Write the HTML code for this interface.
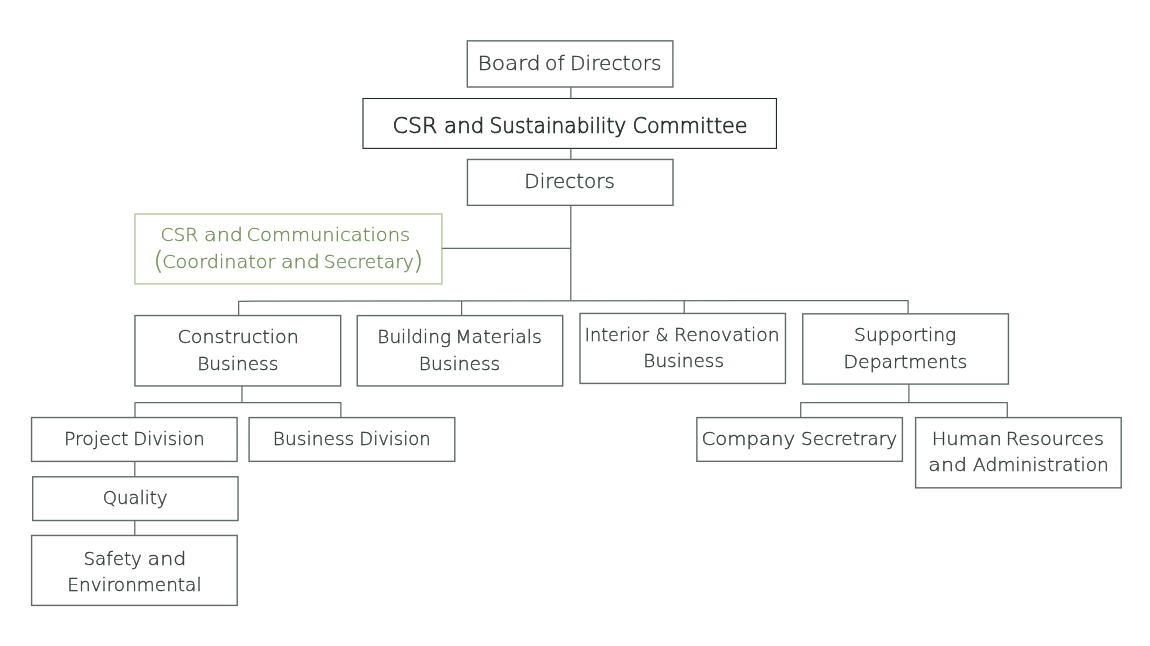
<!DOCTYPE html>
<html lang="en">
<head>
<meta charset="utf-8">
<title>Organisation Chart</title>
<style>
html,body{margin:0;padding:0;background:#fff;}
body{width:1150px;height:646px;position:relative;overflow:hidden;font-family:"DejaVu Sans", "Liberation Sans", sans-serif;font-weight:200;}
#chart{position:absolute;left:0;top:0;width:1150px;height:646px;}
#labels{position:absolute;left:0;top:0;width:1150px;height:646px;will-change:transform;}
.t{position:absolute;left:0;top:0;margin:0;white-space:nowrap;line-height:1;}
.t span{position:absolute;white-space:nowrap;line-height:1;transform-origin:0 0;}
</style>
</head>
<body>
<svg id="chart" width="1150" height="646" viewBox="0 0 1150 646" fill="none">
<rect x="467.30" y="40.85" width="205.60" height="46.15" stroke="#5f6c68" stroke-width="1.40" fill="#fff"/>
<rect x="363.00" y="98.50" width="413.45" height="49.90" stroke="#1d2c28" stroke-width="1.10" fill="#fff"/>
<rect x="467.45" y="159.45" width="205.55" height="45.91" stroke="#5f6c68" stroke-width="1.40" fill="#fff"/>
<rect x="134.95" y="214.00" width="306.95" height="69.90" stroke="#b7c9a0" stroke-width="1.45" fill="#fff"/>
<rect x="134.95" y="315.55" width="205.75" height="70.41" stroke="#5f6c68" stroke-width="1.40" fill="#fff"/>
<rect x="357.25" y="315.60" width="205.45" height="70.36" stroke="#5f6c68" stroke-width="1.40" fill="#fff"/>
<rect x="579.98" y="313.45" width="205.48" height="69.98" stroke="#5f6c68" stroke-width="1.40" fill="#fff"/>
<rect x="802.77" y="313.85" width="205.66" height="70.25" stroke="#5f6c68" stroke-width="1.40" fill="#fff"/>
<rect x="31.55" y="417.55" width="205.55" height="43.85" stroke="#5f6c68" stroke-width="1.40" fill="#fff"/>
<rect x="249.10" y="417.60" width="205.70" height="43.76" stroke="#5f6c68" stroke-width="1.40" fill="#fff"/>
<rect x="32.70" y="476.80" width="205.35" height="43.72" stroke="#5f6c68" stroke-width="1.40" fill="#fff"/>
<rect x="31.60" y="535.45" width="205.60" height="69.95" stroke="#5f6c68" stroke-width="1.40" fill="#fff"/>
<rect x="696.87" y="417.60" width="205.53" height="43.73" stroke="#5f6c68" stroke-width="1.40" fill="#fff"/>
<rect x="915.60" y="417.60" width="205.60" height="70.23" stroke="#5f6c68" stroke-width="1.40" fill="#fff"/>
<g stroke="#5f6c68" stroke-width="1.25" fill="none" stroke-linejoin="round">
<path d="M570.85 87V98.5"/>
<path d="M570.85 148.4V159.45"/>
<path d="M570.8 205.36V300.75"/>
<path d="M441.9 248.46H570.8"/>
<path d="M238.65 315.55V301.25L908.1 300.6V313.85"/>
<path d="M461.6 301V315.6"/>
<path d="M684.2 300.8V313.45"/>
<path d="M241.97 385.96V402.6"/>
<path d="M135 417.55V402.6H340.87V417.6"/>
<path d="M134.8 461.4V476.8"/>
<path d="M134.8 520.52V535.45"/>
<path d="M908.9 384.1V402.6"/>
<path d="M800.7 417.6V402.6H1007.3V417.6"/>
</g>
</svg>
<div id="labels">
<div class="t" style="color:#2e3d39;-webkit-text-stroke:0.38px #2e3d39"><span style="left:477px;top:54px;font-size:19.86px;transform:translateX(0.50px) scaleX(1.0935)">Board</span> <span style="left:545px;top:54px;font-size:19.86px;transform:translateX(0.08px) scaleX(1.0222)">of</span> <span style="left:570px;top:54px;font-size:19.86px;transform:translateX(0.00px) scaleX(1.0167)">Directors</span></div>
<div class="t" style="color:#1d2c28;-webkit-text-stroke:0.70px #1d2c28"><span style="left:392px;top:115px;font-size:21.64px;transform:translateX(0.55px) scaleX(1.0193)">CSR</span> <span style="left:444px;top:115px;font-size:21.64px;transform:translateX(0.12px) scaleX(0.9879)">and</span> <span style="left:489px;top:115px;font-size:21.64px;transform:translateX(0.43px) scaleX(0.9345)">Sustainability</span> <span style="left:632px;top:115px;font-size:21.64px;transform:translateX(0.45px) scaleX(0.9591)">Committee</span></div>
<div class="t" style="color:#2e3d39;-webkit-text-stroke:0.38px #2e3d39"><span style="left:524px;top:172px;font-size:19.86px;transform:translateX(0.33px) scaleX(1.0046)">Directors</span></div>
<div class="t" style="color:#6d8f4f;-webkit-text-stroke:0.30px #6d8f4f"><span style="left:160px;top:226px;font-size:17.81px;transform:translateX(0.45px) scaleX(1.0501)">CSR</span> <span style="left:203px;top:226px;font-size:17.81px;transform:translateX(0.93px) scaleX(1.1686)">and</span> <span style="left:246px;top:226px;font-size:17.81px;transform:translateX(0.50px) scaleX(1.0951)">Communications</span></div>
<div class="t" style="color:#6d8f4f;-webkit-text-stroke:0.30px #6d8f4f"><span style="left:153px;top:248px;font-size:25.48px;transform:translateX(0.60px) scaleX(1.0000)">(</span><span style="left:162px;top:253px;font-size:17.81px;transform:translateX(0.20px) scaleX(1.0797)">Coordinator</span> <span style="left:280px;top:253px;font-size:17.81px;transform:translateX(0.90px) scaleX(1.1603)">and</span> <span style="left:323px;top:253px;font-size:17.81px;transform:translateX(0.85px) scaleX(1.0515)">Secretary</span><span style="left:413px;top:248px;font-size:25.48px;transform:translateX(0.30px) scaleX(1.0000)">)</span></div>
<div class="t" style="color:#2e3d39;-webkit-text-stroke:0.38px #2e3d39"><span style="left:177px;top:328px;font-size:18.49px;transform:translateX(0.42px) scaleX(1.0319)">Construction</span></div>
<div class="t" style="color:#2e3d39;-webkit-text-stroke:0.38px #2e3d39"><span style="left:197px;top:355px;font-size:18.49px;transform:translateX(0.20px) scaleX(1.0039)">Business</span></div>
<div class="t" style="color:#2e3d39;-webkit-text-stroke:0.38px #2e3d39"><span style="left:377px;top:328px;font-size:18.49px;transform:translateX(0.32px) scaleX(0.9986)">Building</span> <span style="left:455px;top:328px;font-size:18.49px;transform:translateX(0.23px) scaleX(1.0229)">Materials</span></div>
<div class="t" style="color:#2e3d39;-webkit-text-stroke:0.38px #2e3d39"><span style="left:418px;top:355px;font-size:18.49px;transform:translateX(0.77px) scaleX(1.0077)">Business</span></div>
<div class="t" style="color:#2e3d39;-webkit-text-stroke:0.38px #2e3d39"><span style="left:584px;top:326px;font-size:18.49px;transform:translateX(0.80px) scaleX(0.9536)">Interior</span> <span style="left:655px;top:326px;font-size:18.49px;transform:translateX(0.55px) scaleX(0.8940)">&amp;</span> <span style="left:674px;top:326px;font-size:18.49px;transform:translateX(0.02px) scaleX(1.0140)">Renovation</span></div>
<div class="t" style="color:#2e3d39;-webkit-text-stroke:0.38px #2e3d39"><span style="left:643px;top:352px;font-size:18.49px;transform:translateX(0.35px) scaleX(0.9974)">Business</span></div>
<div class="t" style="color:#2e3d39;-webkit-text-stroke:0.38px #2e3d39"><span style="left:854px;top:326px;font-size:18.49px;transform:translateX(0.10px) scaleX(1.0122)">Supporting</span></div>
<div class="t" style="color:#2e3d39;-webkit-text-stroke:0.38px #2e3d39"><span style="left:843px;top:353px;font-size:18.49px;transform:translateX(0.57px) scaleX(1.0178)">Departments</span></div>
<div class="t" style="color:#2e3d39;-webkit-text-stroke:0.38px #2e3d39"><span style="left:63px;top:430px;font-size:18.49px;transform:translateX(0.98px) scaleX(1.0182)">Project</span> <span style="left:133px;top:430px;font-size:18.49px;transform:translateX(0.30px) scaleX(0.9747)">Division</span></div>
<div class="t" style="color:#2e3d39;-webkit-text-stroke:0.38px #2e3d39"><span style="left:272px;top:430px;font-size:18.49px;transform:translateX(0.77px) scaleX(1.0077)">Business</span> <span style="left:359px;top:430px;font-size:18.49px;transform:translateX(0.30px) scaleX(0.9747)">Division</span></div>
<div class="t" style="color:#2e3d39;-webkit-text-stroke:0.38px #2e3d39"><span style="left:701px;top:430px;font-size:18.49px;transform:translateX(0.40px) scaleX(1.0657)">Company</span> <span style="left:801px;top:430px;font-size:18.49px;transform:translateX(0.12px) scaleX(0.9942)">Secretrary</span></div>
<div class="t" style="color:#2e3d39;-webkit-text-stroke:0.38px #2e3d39"><span style="left:931px;top:430px;font-size:18.49px;transform:translateX(0.72px) scaleX(1.0526)">Human</span> <span style="left:1005px;top:430px;font-size:18.49px;transform:translateX(0.77px) scaleX(1.0400)">Resources</span></div>
<div class="t" style="color:#2e3d39;-webkit-text-stroke:0.38px #2e3d39"><span style="left:928px;top:456px;font-size:18.49px;transform:translateX(0.30px) scaleX(1.1105)">and</span> <span style="left:973px;top:456px;font-size:18.49px;transform:translateX(0.02px) scaleX(1.0045)">Administration</span></div>
<div class="t" style="color:#2e3d39;-webkit-text-stroke:0.38px #2e3d39"><span style="left:102px;top:489px;font-size:18.49px;transform:translateX(0.72px) scaleX(0.9820)">Quality</span></div>
<div class="t" style="color:#2e3d39;-webkit-text-stroke:0.38px #2e3d39"><span style="left:83px;top:550px;font-size:18.49px;transform:translateX(0.38px) scaleX(0.9895)">Safety</span> <span style="left:147px;top:550px;font-size:18.49px;transform:translateX(0.55px) scaleX(1.1127)">and</span></div>
<div class="t" style="color:#2e3d39;-webkit-text-stroke:0.38px #2e3d39"><span style="left:67px;top:576px;font-size:18.49px;transform:translateX(0.30px) scaleX(0.9981)">Environmental</span></div>
</div>
</body>
</html>
